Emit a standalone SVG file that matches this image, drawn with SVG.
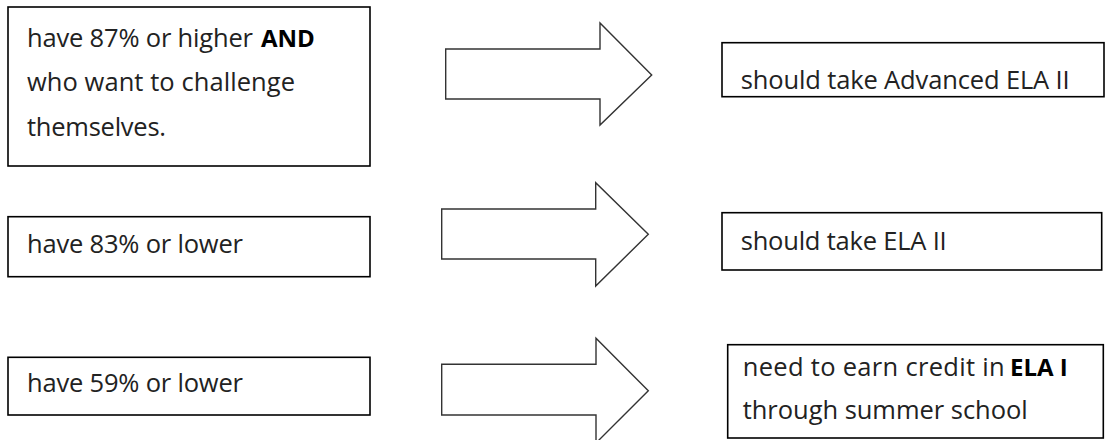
<svg xmlns="http://www.w3.org/2000/svg" width="1105" height="440" viewBox="0 0 1105 440">
<style>
.box{fill:#fff;stroke:#000;stroke-width:1.6}
.arr{fill:#fff;stroke:#333;stroke-width:1.4;stroke-linejoin:miter}
text{font-family:"Open Sans",Lato,"Liberation Sans",sans-serif;font-size:25.5px;fill:#222}
.b{font-weight:bold;fill:#000;font-size:24px}
</style>
<rect width="1105" height="440" fill="#fff"/>
<g id="n1">
<rect class="box" x="8" y="7" width="362" height="159"/>
<text x="27" y="46.5"><tspan x="27" textLength="226">have 87% or higher</tspan><tspan class="b" x="261">AND</tspan></text>
<text x="27" y="91" textLength="268">who want to challenge</text>
<text x="27" y="136" textLength="139">themselves.</text>
</g>
<g id="n2">
<rect class="box" x="8" y="216.7" width="362" height="60"/>
<text x="27" y="253" textLength="216">have 83% or lower</text>
</g>
<g id="n3">
<rect class="box" x="8" y="357.3" width="362" height="57.7"/>
<text x="27" y="391.7" textLength="216">have 59% or lower</text>
</g>
<g id="n4">
<rect class="box" x="722" y="42.7" width="382" height="54"/>
<text x="740.7" y="89.3" textLength="329">should take Advanced ELA II</text>
</g>
<g id="n5">
<rect class="box" x="722" y="212.7" width="379.7" height="57.3"/>
<text x="740.7" y="250" textLength="206">should take ELA II</text>
</g>
<g id="n6">
<rect class="box" x="727.7" y="344.7" width="375.6" height="93.3"/>
<text x="742.7" y="375.5"><tspan x="742.7" textLength="262">need to earn credit in</tspan><tspan class="b" x="1010">ELA I</tspan></text>
<text x="742.7" y="419" textLength="285">through summer school</text>
</g>
<g id="connectors">
<polygon class="arr" points="445.7,49 600,49 600,23 651.7,75 600,125 600,99 445.7,99"/>
<polygon class="arr" points="441.7,209 595.7,209 595.7,182.7 648.3,234.3 595.7,286 595.7,259 441.7,259"/>
<polygon class="arr" points="441.7,364.3 596,364.3 596,338.3 648.3,390.7 596,443 596,415 441.7,415"/>
</g>
</svg>
